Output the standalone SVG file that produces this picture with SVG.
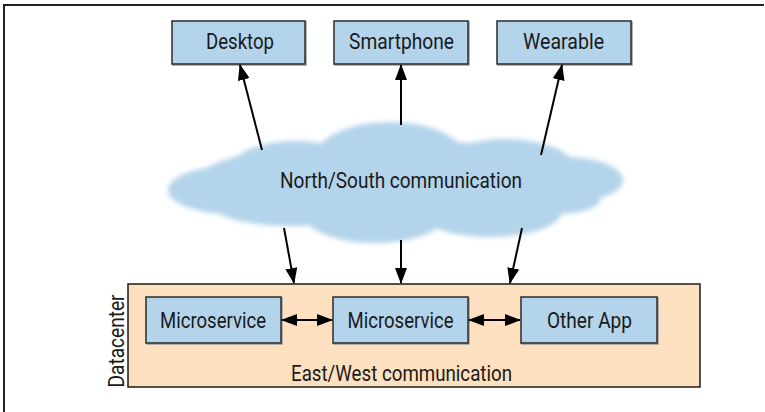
<svg xmlns="http://www.w3.org/2000/svg" width="765" height="412" viewBox="0 0 765 412">
  <style>
    .frame { fill: none; stroke: #222; stroke-width: 2; }
    .box { fill: #b3d4ea; stroke: #2b2b2b; stroke-width: 1.5; }
    .shadow { fill: none; stroke: #9a9a9a; stroke-width: 1.5; }
    .dc { fill: #fde0bf; stroke: #1a1a1a; stroke-width: 1.5; }
    .label { font-family: Roboto, "Liberation Sans", sans-serif; font-size: 21.5px; fill: #1a1a1a; text-anchor: middle; }
    .conn { stroke: #000; stroke-width: 2; fill: none; }
  </style>
  <defs>
    <marker id="head" viewBox="0 0 16 12" refX="15" refY="6" markerWidth="16" markerHeight="12" markerUnits="userSpaceOnUse" orient="auto-start-reverse">
      <path d="M0,0 L16,6 L0,12 Z" fill="#000"/>
    </marker>
    <filter id="soft" x="-10%" y="-20%" width="120%" height="140%">
      <feGaussianBlur stdDeviation="2.5"/>
    </filter>
  </defs>

  <!-- page frame (top and left rules) -->
  <path class="frame" d="M4,412 L4,5 L764,5"/>

  <!-- cloud -->
  <g id="cloud">
    <g fill="#b3d4ea" filter="url(#soft)">
      <ellipse cx="395" cy="182" rx="200" ry="42"/>
      <ellipse cx="232" cy="190" rx="64" ry="24"/>
      <ellipse cx="295" cy="167" rx="62" ry="26"/>
      <ellipse cx="390" cy="162" rx="78" ry="40"/>
      <ellipse cx="505" cy="171" rx="72" ry="32"/>
      <ellipse cx="565" cy="180" rx="58" ry="23"/>
      <ellipse cx="290" cy="205" rx="78" ry="21"/>
      <ellipse cx="375" cy="213" rx="72" ry="30"/>
      <ellipse cx="490" cy="211" rx="72" ry="26"/>
      <ellipse cx="555" cy="200" rx="45" ry="14"/>
    </g>
    <text class="label" x="401" y="188" textLength="242" lengthAdjust="spacingAndGlyphs">North/South communication</text>
  </g>

  <!-- client devices -->
  <g id="desktop">
    <rect class="shadow" x="173" y="22" width="133" height="43"/>
    <rect class="box" x="172" y="21" width="133" height="43"/>
    <text class="label" x="240" y="49" textLength="68" lengthAdjust="spacingAndGlyphs">Desktop</text>
  </g>
  <g id="smartphone">
    <rect class="shadow" x="335" y="22" width="134" height="43"/>
    <rect class="box" x="334" y="21" width="134" height="43"/>
    <text class="label" x="401.5" y="49" textLength="105" lengthAdjust="spacingAndGlyphs">Smartphone</text>
  </g>
  <g id="wearable">
    <rect class="shadow" x="498" y="22" width="134" height="43"/>
    <rect class="box" x="497" y="21" width="134" height="43"/>
    <text class="label" x="563.5" y="49" textLength="81" lengthAdjust="spacingAndGlyphs">Wearable</text>
  </g>

  <!-- datacenter -->
  <g id="datacenter">
    <rect class="dc" x="128" y="284" width="572" height="103"/>
    <text class="label" transform="translate(124,341) rotate(-90)" x="0" y="0" textLength="93" lengthAdjust="spacingAndGlyphs">Datacenter</text>
    <text class="label" x="401.5" y="381" textLength="221" lengthAdjust="spacingAndGlyphs">East/West communication</text>
  </g>
  <g id="microservice-a">
    <rect class="shadow" x="147" y="298" width="135" height="46"/>
    <rect class="box" x="146" y="297" width="135" height="46"/>
    <text class="label" x="213" y="328" textLength="106" lengthAdjust="spacingAndGlyphs">Microservice</text>
  </g>
  <g id="microservice-b">
    <rect class="shadow" x="334" y="298" width="135" height="46"/>
    <rect class="box" x="333" y="297" width="135" height="46"/>
    <text class="label" x="400.5" y="328" textLength="106" lengthAdjust="spacingAndGlyphs">Microservice</text>
  </g>
  <g id="other-app">
    <rect class="shadow" x="522" y="298" width="136" height="46"/>
    <rect class="box" x="521" y="297" width="136" height="46"/>
    <text class="label" x="589.5" y="328" textLength="85" lengthAdjust="spacingAndGlyphs">Other App</text>
  </g>

  <!-- connectors -->
  <g id="connectors">
    <line class="conn" x1="262" y1="150" x2="240" y2="65" marker-end="url(#head)"/>
    <line class="conn" x1="401" y1="125" x2="401" y2="65" marker-end="url(#head)"/>
    <line class="conn" x1="541" y1="155" x2="562" y2="65" marker-end="url(#head)"/>
    <line class="conn" x1="284" y1="228" x2="294" y2="283" marker-end="url(#head)"/>
    <line class="conn" x1="401" y1="240" x2="401" y2="283" marker-end="url(#head)"/>
    <line class="conn" x1="522" y1="228" x2="510" y2="283" marker-end="url(#head)"/>
    <line class="conn" x1="282" y1="320" x2="332" y2="320" marker-start="url(#head)" marker-end="url(#head)"/>
    <line class="conn" x1="469" y1="320" x2="520" y2="320" marker-start="url(#head)" marker-end="url(#head)"/>
  </g>
</svg>
